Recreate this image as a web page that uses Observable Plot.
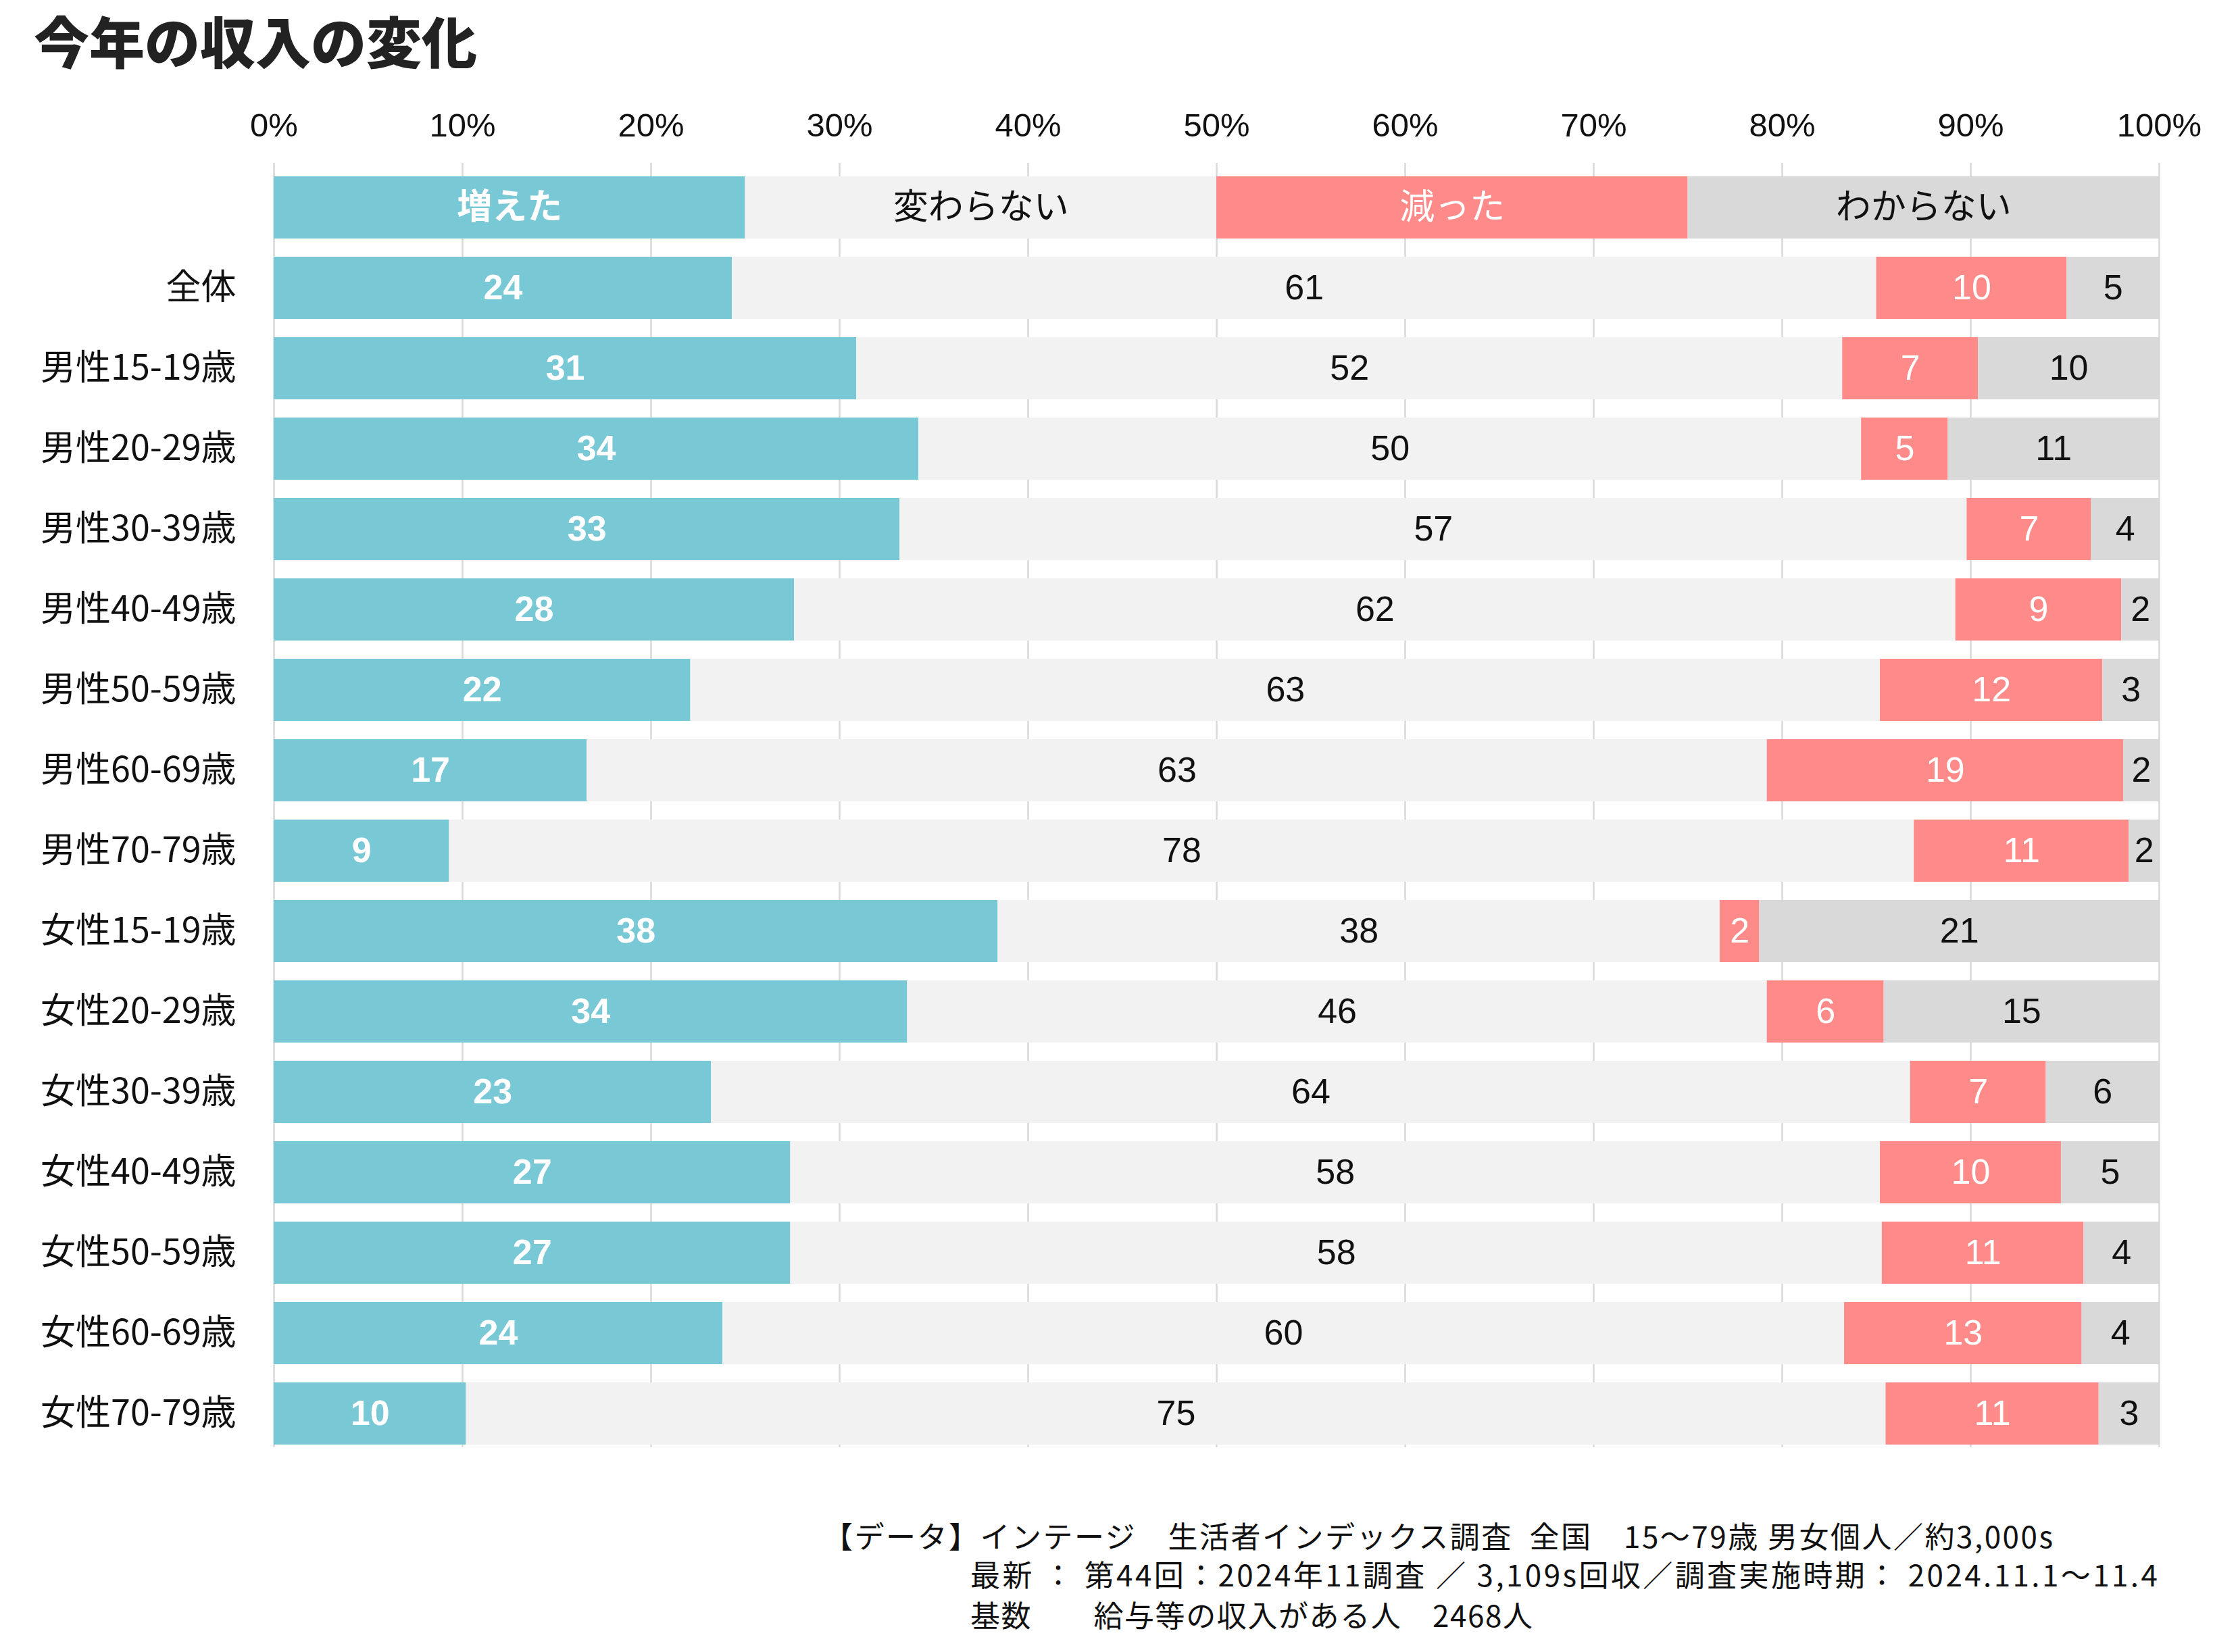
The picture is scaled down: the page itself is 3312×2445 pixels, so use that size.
<!DOCTYPE html>
<html><head><meta charset="utf-8">
<script src="https://cdn.jsdelivr.net/npm/d3@7"></script>
<script src="https://cdn.jsdelivr.net/npm/@observablehq/plot@0.6"></script>
<style>
html,body{margin:0;padding:0;background:#fff;}
body{width:3312px;height:2445px;position:relative;overflow:hidden;font-family:"Noto Sans CJK JP",sans-serif;}
#title{position:absolute;left:50px;top:10px;font-size:82px;font-weight:900;color:#222;line-height:1.2;}
#chart{position:absolute;left:0;top:114px;}
.foot{position:absolute;font-size:44px;color:#111;white-space:pre;line-height:1;}
</style></head><body>
<div id="title">今年の収入の変化</div>
<div id="chart"></div>
<div class="foot" style="left:1218px;top:2250px;letter-spacing:2.5px">【データ】インテージ　生活者インデックス調査  全国　15～79歳 男女個人／約3,000s</div>
<div class="foot" style="left:1436px;top:2307px;letter-spacing:3.4px">最新 ： 第44回：2024年11調査 ／ 3,109s回収／調査実施時期： 2024.11.1～11.4</div>
<div class="foot" style="left:1436px;top:2367px;letter-spacing:1.6px">基数　　給与等の収入がある人　2468人</div>
<script>
const categories = ["全体","男性15-19歳","男性20-29歳","男性30-39歳","男性40-49歳","男性50-59歳","男性60-69歳","男性70-79歳","女性15-19歳","女性20-29歳","女性30-39歳","女性40-49歳","女性50-59歳","女性60-69歳","女性70-79歳"];
const seriesNames = ["増えた","変わらない","減った","わからない"];
const increased = [24.3,30.9,34.2,33.2,27.6,22.1,16.6,9.3,38.4,33.6,23.2,27.4,27.4,23.8,10.2];
const unchanged = [60.7,52.3,50.0,56.6,61.6,63.1,62.6,77.7,38.3,45.6,63.6,57.8,57.9,59.5,75.3];
const decreased = [10.1,7.2,4.6,6.6,8.8,11.8,18.9,11.4,2.1,6.2,7.2,9.6,10.7,12.6,11.3];
const unknown   = [4.9,9.6,11.2,3.6,2.0,3.0,1.9,1.6,21.2,14.6,6.0,5.2,4.0,4.1,3.2];
const legendShare = [25,25,25,25];
const xTicks = [0,10,20,30,40,50,60,70,80,90,100];
const legendRow = "凡例";

const seriesColors = ["#79C8D6","#F2F2F2","#FF8A8A","#D9D9D9"];
const textColors = ["#ffffff","#111111","#ffffff","#111111"];
const textWeights = ["bold","normal","normal","normal"];
const seriesValues = [increased, unchanged, decreased, unknown];

const rows = [legendRow, ...categories];
const table = [];
seriesNames.forEach((s, j) => table.push({cat: legendRow, series: s, value: legendShare[j], label: s, legend: true}));
categories.forEach((c, i) => seriesNames.forEach((s, j) => {
  const v = seriesValues[j][i];
  table.push({cat: c, series: s, value: v, label: String(Math.round(v)), legend: false});
}));

const numFont = "'Liberation Sans', Arial, 'Noto Sans CJK JP', sans-serif";

const marks = [
  Plot.gridX({ticks: xTicks, stroke: "#d9d9d9", strokeOpacity: 1, strokeWidth: 2.5}),
  Plot.barX(table, Plot.stackX({x: "value", y: "cat", z: "series", fill: "series", order: seriesNames})),
  Plot.axisX({anchor: "top", ticks: xTicks, tickFormat: d => d + "%", tickSize: 0, tickPadding: 40, fontSize: 49, fontFamily: numFont, fill: "#111", label: null}),
  Plot.axisY({tickSize: 0, tickPadding: 56, fontSize: 52, fontFamily: "'Noto Sans CJK JP', sans-serif", fill: "#111", label: null, tickFormat: d => d === legendRow ? "" : d})
];
seriesNames.forEach((s, j) => {
  marks.push(Plot.text(table, Plot.stackX({
    x: "value", y: "cat", z: "series", order: seriesNames,
    text: d => d.series === s ? d.label : null,
    fill: textColors[j], fontWeight: textWeights[j], fontSize: 52, fontFamily: numFont
  })));
});

const chart = Plot.plot({
  width: 3312,
  height: 2048,
  marginTop: 127,
  marginBottom: 20,
  marginLeft: 405,
  marginRight: 117,
  style: {background: "#fff", fontFamily: numFont},
  x: {domain: [0, 100], label: null},
  y: {domain: rows, paddingInner: 0.23, paddingOuter: 0.075, align: 0.83, label: null},
  color: {domain: seriesNames, range: seriesColors},
  marks
});
document.getElementById("chart").appendChild(chart);
</script>
</body></html>
